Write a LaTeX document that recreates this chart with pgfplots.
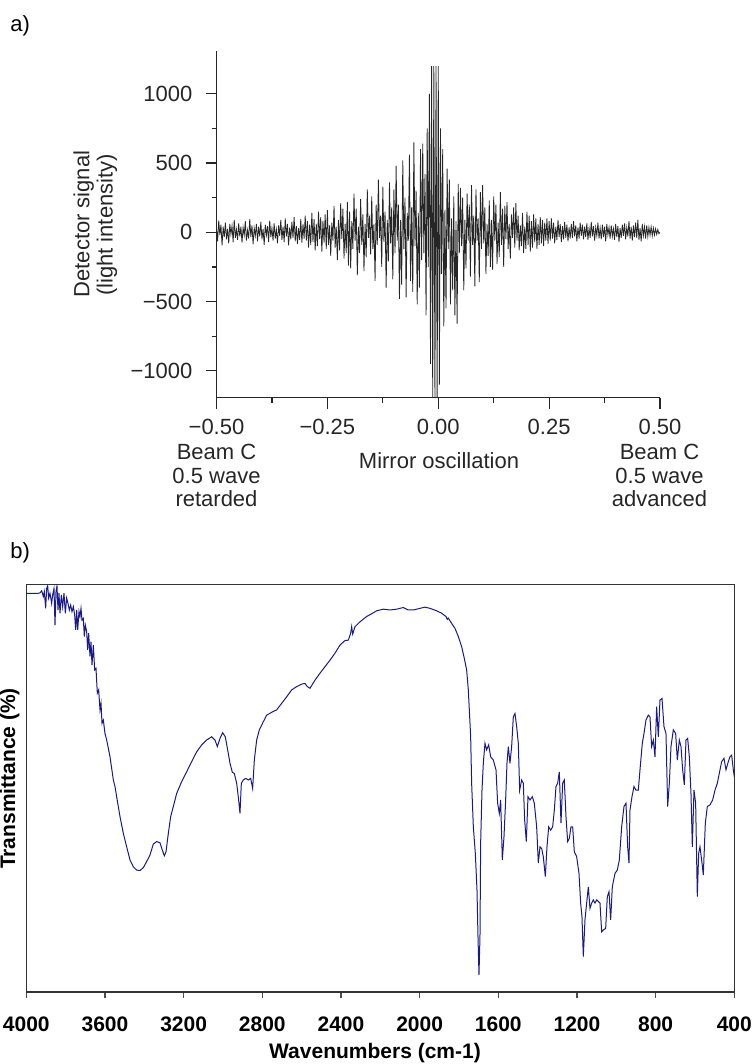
\documentclass[border=0pt]{standalone}
\usepackage{fontspec}
\setmainfont{Liberation Sans}
\usepackage{pgfplots}
\pgfplotsset{compat=1.18}
\definecolor{spec}{RGB}{25,25,140}
\newcommand\fa{\fontsize{11}{13}\selectfont}
\newcommand\fb{\fontsize{10.5}{12}\selectfont\bfseries}
\begin{document}
\begin{tikzpicture}[x=1pt,y=1pt]
% ---------------- panel a ----------------
\begin{axis}[
  at={(108.25pt,333.15pt)}, anchor=south west,
  scale only axis, width=221.75pt, height=173.35pt,
  xmin=-0.5, xmax=0.5, ymin=-1194, ymax=1309,
  axis x line=bottom, axis y line=left,
  axis line style={-, line width=0.6pt, black!85},
  tick align=outside,
  tick style={line width=0.6pt, black!85},
  major tick length=5.5pt, minor tick length=2.5pt,
  xtick={-0.5,-0.25,0,0.25,0.5},
  xticklabels={−0.50,−0.25,0.00,0.25,0.50},
  minor xtick={-0.375,-0.125,0.125,0.375},
  ytick={-1000,-500,0,500,1000},
  yticklabels={−1000,−500,0,500,1000},
  minor ytick={-750,-250,250,750},
  ticklabel style={font=\fa, text=black!85},
  xticklabel style={yshift=-1.5pt},
  yticklabel style={xshift=-3pt},
]
\addplot[black!85, line width=0.4pt] coordinates {
(-0.5000,30) (-0.4975,-65) (-0.4950,85) (-0.4925,-20) (-0.4900,55) (-0.4875,-95) (-0.4850,40) (-0.4825,-35) (-0.4800,70) (-0.4775,-50)
(-0.4750,25) (-0.4725,-80) (-0.4700,60) (-0.4675,-15) (-0.4650,45) (-0.4625,-70) (-0.4600,90) (-0.4575,-40) (-0.4550,20) (-0.4525,-55)
(-0.4500,65) (-0.4475,-30) (-0.4450,40) (-0.4425,-75) (-0.4400,35) (-0.4375,-20) (-0.4350,80) (-0.4325,-60) (-0.4300,15) (-0.4275,-45)
(-0.4250,95) (-0.4225,-35) (-0.4200,50) (-0.4175,-85) (-0.4150,30) (-0.4125,-25) (-0.4100,60) (-0.4075,-65) (-0.4050,40) (-0.4025,-30)
(-0.4000,75) (-0.3975,-50) (-0.3950,25) (-0.3925,-90) (-0.3900,55) (-0.3875,-20) (-0.3850,45) (-0.3825,-70) (-0.3800,85) (-0.3775,-35)
(-0.3750,30) (-0.3725,-60) (-0.3700,65) (-0.3675,-45) (-0.3650,20) (-0.3625,-80) (-0.3600,50) (-0.3575,-25) (-0.3550,90) (-0.3525,-55)
(-0.3500,40) (-0.3475,-70) (-0.3450,100) (-0.3425,-30) (-0.3400,60) (-0.3375,-95) (-0.3350,35) (-0.3325,-50) (-0.3300,75) (-0.3275,-40)
(-0.3250,110) (-0.3225,-65) (-0.3200,45) (-0.3175,-85) (-0.3150,30) (-0.3125,-55) (-0.3100,95) (-0.3075,-75) (-0.3050,60) (-0.3025,-45)
(-0.3000,120) (-0.2975,-60) (-0.2950,80) (-0.2925,-110) (-0.2900,55) (-0.2875,-90) (-0.2850,140) (-0.2825,-70) (-0.2800,95) (-0.2775,-130)
(-0.2750,60) (-0.2725,-100) (-0.2700,150) (-0.2675,-50) (-0.2650,110) (-0.2625,-140) (-0.2600,85) (-0.2575,-75) (-0.2550,130) (-0.2525,-120)
(-0.2500,160) (-0.2475,-90) (-0.2450,50) (-0.2425,-170) (-0.2400,70) (-0.2375,-60) (-0.2350,190) (-0.2325,-110) (-0.2300,40) (-0.2275,-200)
(-0.2250,90) (-0.2225,-130) (-0.2200,210) (-0.2175,-50) (-0.2150,170) (-0.2125,-190) (-0.2100,60) (-0.2075,-150) (-0.2050,220) (-0.2025,-240)
(-0.2000,150) (-0.1975,-260) (-0.1950,80) (-0.1925,-120) (-0.1900,280) (-0.1875,-60) (-0.1850,170) (-0.1825,-310) (-0.1800,40) (-0.1775,-150)
(-0.1750,240) (-0.1725,-90) (-0.1700,130) (-0.1675,-280) (-0.1650,60) (-0.1625,-180) (-0.1600,310) (-0.1575,-40) (-0.1550,120) (-0.1525,-160)
(-0.1500,260) (-0.1475,-120) (-0.1450,60) (-0.1425,-350) (-0.1400,200) (-0.1375,-90) (-0.1350,380) (-0.1325,-40) (-0.1300,120) (-0.1275,-250)
(-0.1250,330) (-0.1225,-70) (-0.1200,150) (-0.1175,-400) (-0.1150,90) (-0.1125,-210) (-0.1100,360) (-0.1075,-80) (-0.1050,180) (-0.1025,-340)
(-0.1000,310) (-0.0975,-150) (-0.0950,480) (-0.0925,-60) (-0.0900,200) (-0.0875,-480) (-0.0850,90) (-0.0825,-380) (-0.0800,520) (-0.0775,-120)
(-0.0750,250) (-0.0725,-470) (-0.0700,140) (-0.0675,-60) (-0.0650,560) (-0.0625,-350) (-0.0600,180) (-0.0575,-430) (-0.0550,650) (-0.0525,-100)
(-0.0500,300) (-0.0475,-520) (-0.0450,140) (-0.0425,-400) (-0.0400,600) (-0.0375,-200) (-0.0350,640) (-0.0325,-150) (-0.0300,420) (-0.0275,-600)
(-0.0250,750) (-0.0225,-250) (-0.0200,1000) (-0.0175,-950) (-0.0150,1200) (-0.0125,-1200) (-0.0100,1200) (-0.0075,-1200) (-0.0050,1200) (-0.0025,-1200)
(0.0000,1200) (0.0025,-1100) (0.0050,750) (0.0075,-300) (0.0100,600) (0.0125,-680) (0.0150,160) (0.0175,-550) (0.0200,460) (0.0225,-120)
(0.0250,380) (0.0275,-520) (0.0300,100) (0.0325,-420) (0.0350,260) (0.0375,-600) (0.0400,80) (0.0425,-660) (0.0450,350) (0.0475,-150)
(0.0500,320) (0.0525,-100) (0.0550,250) (0.0575,-420) (0.0600,90) (0.0625,-260) (0.0650,280) (0.0675,-60) (0.0700,200) (0.0725,-320)
(0.0750,340) (0.0775,-90) (0.0800,120) (0.0825,-390) (0.0850,310) (0.0875,-60) (0.0900,100) (0.0925,-360) (0.0950,290) (0.0975,-120)
(0.1000,340) (0.1025,-80) (0.1050,180) (0.1075,-300) (0.1100,60) (0.1125,-170) (0.1150,230) (0.1175,-250) (0.1200,90) (0.1225,-270)
(0.1250,260) (0.1275,-60) (0.1300,200) (0.1325,-230) (0.1350,70) (0.1375,-180) (0.1400,290) (0.1425,-90) (0.1450,170) (0.1475,-250)
(0.1500,190) (0.1525,-50) (0.1550,220) (0.1575,-120) (0.1600,60) (0.1625,-190) (0.1650,130) (0.1675,-40) (0.1700,180) (0.1725,-110)
(0.1750,210) (0.1775,-60) (0.1800,120) (0.1825,-130) (0.1850,50) (0.1875,-100) (0.1900,140) (0.1925,-150) (0.1950,40) (0.1975,-120)
(0.2000,150) (0.2025,-90) (0.2050,120) (0.2075,-140) (0.2100,80) (0.2125,-110) (0.2150,130) (0.2175,-70) (0.2200,100) (0.2225,-120)
(0.2250,60) (0.2275,-90) (0.2300,110) (0.2325,-80) (0.2350,90) (0.2375,-100) (0.2400,70) (0.2425,-60) (0.2450,100) (0.2475,-85)
(0.2500,80) (0.2525,-60) (0.2550,100) (0.2575,-45) (0.2600,70) (0.2625,-80) (0.2650,40) (0.2675,-55) (0.2700,90) (0.2725,-35)
(0.2750,60) (0.2775,-70) (0.2800,45) (0.2825,-50) (0.2850,75) (0.2875,-40) (0.2900,55) (0.2925,-65) (0.2950,35) (0.2975,-45)
(0.3000,60) (0.3025,-40) (0.3050,80) (0.3075,-30) (0.3100,50) (0.3125,-65) (0.3150,35) (0.3175,-45) (0.3200,70) (0.3225,-25)
(0.3250,55) (0.3275,-50) (0.3300,40) (0.3325,-35) (0.3350,65) (0.3375,-55) (0.3400,30) (0.3425,-40) (0.3450,75) (0.3475,-30)
(0.3500,45) (0.3525,-60) (0.3550,35) (0.3575,-25) (0.3600,70) (0.3625,-45) (0.3650,30) (0.3675,-50) (0.3700,55) (0.3725,-35)
(0.3750,40) (0.3775,-65) (0.3800,60) (0.3825,-20) (0.3850,35) (0.3875,-45) (0.3900,50) (0.3925,-30) (0.3950,25) (0.3975,-55)
(0.4000,60) (0.4025,-35) (0.4050,45) (0.4075,-70) (0.4100,30) (0.4125,-40) (0.4150,55) (0.4175,-25) (0.4200,65) (0.4225,-50)
(0.4250,35) (0.4275,-30) (0.4300,80) (0.4325,-45) (0.4350,40) (0.4375,-60) (0.4400,50) (0.4425,-35) (0.4450,70) (0.4475,-40)
(0.4500,90) (0.4525,-55) (0.4550,30) (0.4575,-65) (0.4600,60) (0.4625,-25) (0.4650,40) (0.4675,-45) (0.4700,50) (0.4725,-30)
(0.4750,35) (0.4775,-20) (0.4800,40) (0.4825,-25) (0.4850,30) (0.4875,-20) (0.4900,25) (0.4925,-15) (0.4950,20) (0.4975,-10)
(0.5000,0)
};
\end{axis}
% ---------------- panel b ----------------
\begin{axis}[
  at={(13.15pt,36pt)}, anchor=south west,
  scale only axis, width=354pt, height=203.85pt,
  xmin=400, xmax=4000, ymin=0, ymax=100, x dir=reverse,
  axis line style={line width=0.6pt, black!80},
  xtick={400,800,1200,1600,2000,2400,2800,3200,3600,4000},
  xticklabels={400,800,1200,1600,2000,2400,2800,3200,3600,4000},
  ytick=\empty, xtick pos=bottom,
  tick align=outside, major tick length=3pt,
  tick style={line width=0.6pt, black!70},
  xticklabel style={font=\fb, yshift=-6pt},
]
\addplot[spec, line width=0.5pt] coordinates {
(4000,97.8) (3938.8,97.8) (3930.3,97.9) (3921.8,98.4) (3913.4,97.0) (3908.3,98.2) (3901.5,94.1) (3896.4,99.0) (3891.3,99.6) (3886.2,96.6)
(3879.5,97.8) (3871.0,95.3) (3865.9,97.4) (3859.1,99.0) (3854.0,90.0) (3848.9,98.2) (3843.9,99.6) (3838.8,93.7) (3833.7,97.8) (3828.6,92.9)
(3821.8,97.4) (3815.1,94.5) (3808.3,97.8) (3801.5,92.9) (3794.7,96.6) (3787.9,95.3) (3781.1,93.7) (3774.3,94.9) (3767.6,93.3) (3760.8,94.5)
(3754.0,92.5) (3748.9,88.8) (3743.8,93.7) (3738.8,88.8) (3732.0,93.3) (3726.9,92.1) (3721.8,94.1) (3716.8,91.2) (3710.0,91.6) (3704.9,87.2)
(3699.8,90.0) (3693.0,88.4) (3687.9,83.9) (3682.9,88.0) (3676.1,82.3) (3671.0,85.9) (3665.9,80.2) (3659.1,85.1) (3652.3,79.0) (3645.6,79.4)
(3638.8,73.3) (3632.0,74.1) (3625.2,69.2) (3620.1,70.8) (3615.0,65.9) (3608.3,66.7) (3599.8,63.4) (3591.2,61.8) (3574.4,57.7) (3557.4,52.0)
(3549.0,50.4) (3540.5,47.9) (3523.5,43.0) (3506.6,38.9) (3489.6,35.6) (3472.7,32.4) (3455.7,30.7) (3438.8,29.9) (3421.8,29.8) (3404.9,30.5)
(3388.0,32.0) (3371.0,33.6) (3354.1,36.3) (3337.1,36.9) (3320.2,36.6) (3308.3,34.8) (3298.1,33.4) (3289.6,34.4) (3277.8,38.9) (3265.9,43.0)
(3252.4,45.5) (3235.4,48.7) (3210.0,51.6) (3184.6,54.0) (3159.1,56.5) (3133.7,58.9) (3108.3,60.6) (3082.9,61.8) (3057.4,62.6) (3040.5,61.8)
(3028.6,60.2) (3015.1,62.2) (3001.5,63.6) (2988.1,62.6) (2976.1,59.4) (2964.2,56.1) (2952.4,53.9) (2942.2,53.6) (2930.3,51.2) (2920.2,47.1)
(2913.4,43.8) (2906.6,51.2) (2896.4,52.0) (2884.6,52.4) (2871.0,52.0) (2859.1,52.4) (2849.0,49.9) (2840.5,56.9) (2828.6,61.8) (2815.1,64.3)
(2794.7,66.3) (2777.8,67.9) (2752.4,68.6) (2726.9,69.2) (2701.5,70.8) (2676.1,72.4) (2650.6,74.1) (2625.2,74.9) (2599.8,75.5) (2582.9,75.7)
(2571.0,74.9) (2557.4,74.5) (2532.0,76.5) (2506.6,78.2) (2481.1,79.8) (2455.7,81.4) (2430.3,83.1) (2404.9,85.1) (2379.4,86.2) (2362.5,86.3)
(2350.7,88.0) (2345.6,89.6) (2340.5,87.8) (2328.6,89.6) (2303.2,90.8) (2269.3,92.1) (2235.4,93.0) (2218.5,93.5) (2184.6,93.9) (2150.7,93.7)
(2116.8,93.9) (2082.9,94.3) (2057.5,93.7) (2032.1,93.7) (1998.2,94.1) (1972.7,94.4) (1947.3,94.1) (1913.4,93.5) (1888.0,92.9) (1866.0,92.1)
(1859.2,91.4) (1854.1,91.7) (1837.1,90.4) (1820.2,89.2) (1803.3,87.2) (1786.3,84.7) (1772.7,81.8) (1760.9,79.0) (1752.4,74.1) (1747.3,69.2)
(1740.5,62.6) (1735.5,51.2) (1726.9,40.5) (1716.8,34.0) (1708.3,25.0) (1703.2,13.6) (1698.2,4.2) (1693.1,13.6) (1689.7,36.5) (1682.9,49.5)
(1676.1,56.1) (1667.7,61.0) (1659.2,59.4) (1649.0,60.6) (1638.8,57.7) (1625.3,56.9) (1611.7,54.5) (1603.3,46.3) (1594.8,43.8) (1588.0,47.1)
(1579.5,32.4) (1571.0,38.1) (1562.6,47.1) (1555.8,56.1) (1549.0,60.2) (1540.5,56.1) (1532.1,60.2) (1523.6,67.5) (1515.1,68.3) (1506.6,65.1)
(1498.2,61.0) (1491.4,49.5) (1481.2,52.0) (1472.7,51.2) (1466.0,42.2) (1457.5,36.9) (1449.0,47.9) (1438.8,47.1) (1427.0,47.9) (1416.8,46.3)
(1404.9,40.5) (1396.5,31.6) (1388.0,35.6) (1379.5,35.2) (1371.1,33.2) (1360.9,28.3) (1352.4,35.6) (1343.9,40.5) (1333.8,39.7) (1323.6,40.5)
(1315.1,44.6) (1306.6,50.4) (1298.2,51.2) (1289.7,54.0) (1281.2,41.4) (1272.7,51.2) (1264.3,52.0) (1255.8,43.0) (1247.3,36.9) (1238.9,37.7)
(1230.4,40.5) (1221.9,40.5) (1213.4,34.4) (1201.6,33.2) (1189.7,29.1) (1181.2,21.8) (1174.5,18.5) (1167.7,8.7) (1159.2,17.7) (1150.7,21.8)
(1142.3,25.8) (1133.8,20.5) (1125.3,21.8) (1116.8,22.6) (1108.3,21.8) (1099.9,22.6) (1091.4,22.2) (1082.9,21.8) (1074.4,14.8) (1066.0,15.2)
(1054.1,15.6) (1045.6,23.4) (1037.1,24.6) (1028.7,17.7) (1020.2,25.8) (1006.6,29.1) (994.8,29.9) (984.6,32.4) (972.7,40.5) (960.9,45.5)
(950.7,46.3) (942.2,35.6) (935.4,31.6) (930.4,44.6) (920.2,47.9) (910.0,50.4) (899.9,49.5) (888.0,49.5) (879.5,54.5) (867.7,61.0)
(859.2,63.4) (849.0,66.7) (837.2,67.9) (828.7,67.5) (820.2,60.2) (811.7,61.8) (803.2,57.7) (794.8,70.0) (786.3,62.6) (777.8,71.6)
(767.6,72.0) (757.5,65.1) (747.3,63.4) (738.8,45.5) (730.2,51.2) (721.9,60.2) (710.0,64.3) (698.1,63.4) (689.7,56.9) (679.5,61.8)
(671.0,60.2) (662.6,54.5) (654.1,50.8) (645.6,61.8) (637.1,62.2) (628.7,57.7) (620.2,48.7) (613.4,35.6) (604.9,49.5) (596.5,46.3)
(588.0,23.4) (581.2,34.0) (574.5,35.6) (566.0,32.4) (557.5,28.7) (547.3,41.4) (537.2,45.5) (523.6,45.9) (510.0,47.1) (498.2,49.5)
(486.3,51.2) (472.7,54.5) (464.3,56.5) (452.4,57.3) (442.2,54.5) (430.4,56.5) (421.9,57.7) (413.4,58.1) (404.9,54.5) (400,52.8)
};
\end{axis}
% ---------------- texts ----------------
\node[anchor=base west, inner sep=0pt, font=\fa] at (5pt,516pt) {a)};
\node[anchor=base west, inner sep=0pt, font=\fa] at (5pt,252.5pt) {b)};
\node[anchor=base, inner sep=0pt, font=\fa, text=black!85] at (219.5pt,297.85pt) {Mirror oscillation};
\foreach \xx in {108.25pt,329.75pt}{
  \node[anchor=base, inner sep=0pt, font=\fa, text=black!85] at (\xx,302pt) {Beam C};
  \node[anchor=base, inner sep=0pt, font=\fa, text=black!85] at (\xx,290.35pt) {0.5 wave};
}
\node[anchor=base, inner sep=0pt, font=\fa, text=black!85] at (108.25pt,278.65pt) {retarded};
\node[anchor=base, inner sep=0pt, font=\fa, text=black!85] at (329.75pt,278.65pt) {advanced};
\node[anchor=base, rotate=90, inner sep=0pt, font=\fa, text=black!85] at (44.65pt,420pt) {Detector signal};
\node[anchor=base, rotate=90, inner sep=0pt, font=\fa, text=black!85] at (56.35pt,419.5pt) {(light intensity)};
\node[anchor=base, rotate=90, inner sep=0pt, font=\fb] at (7.5pt,142.75pt) {Transmittance (\%)};
\node[anchor=base, inner sep=0pt, font=\fb] at (187.5pt,2.5pt) {Wavenumbers (cm-1)};
\pgfresetboundingbox
\useasboundingbox (0pt,0pt) rectangle (377pt,532pt);
\end{tikzpicture}
\end{document}
